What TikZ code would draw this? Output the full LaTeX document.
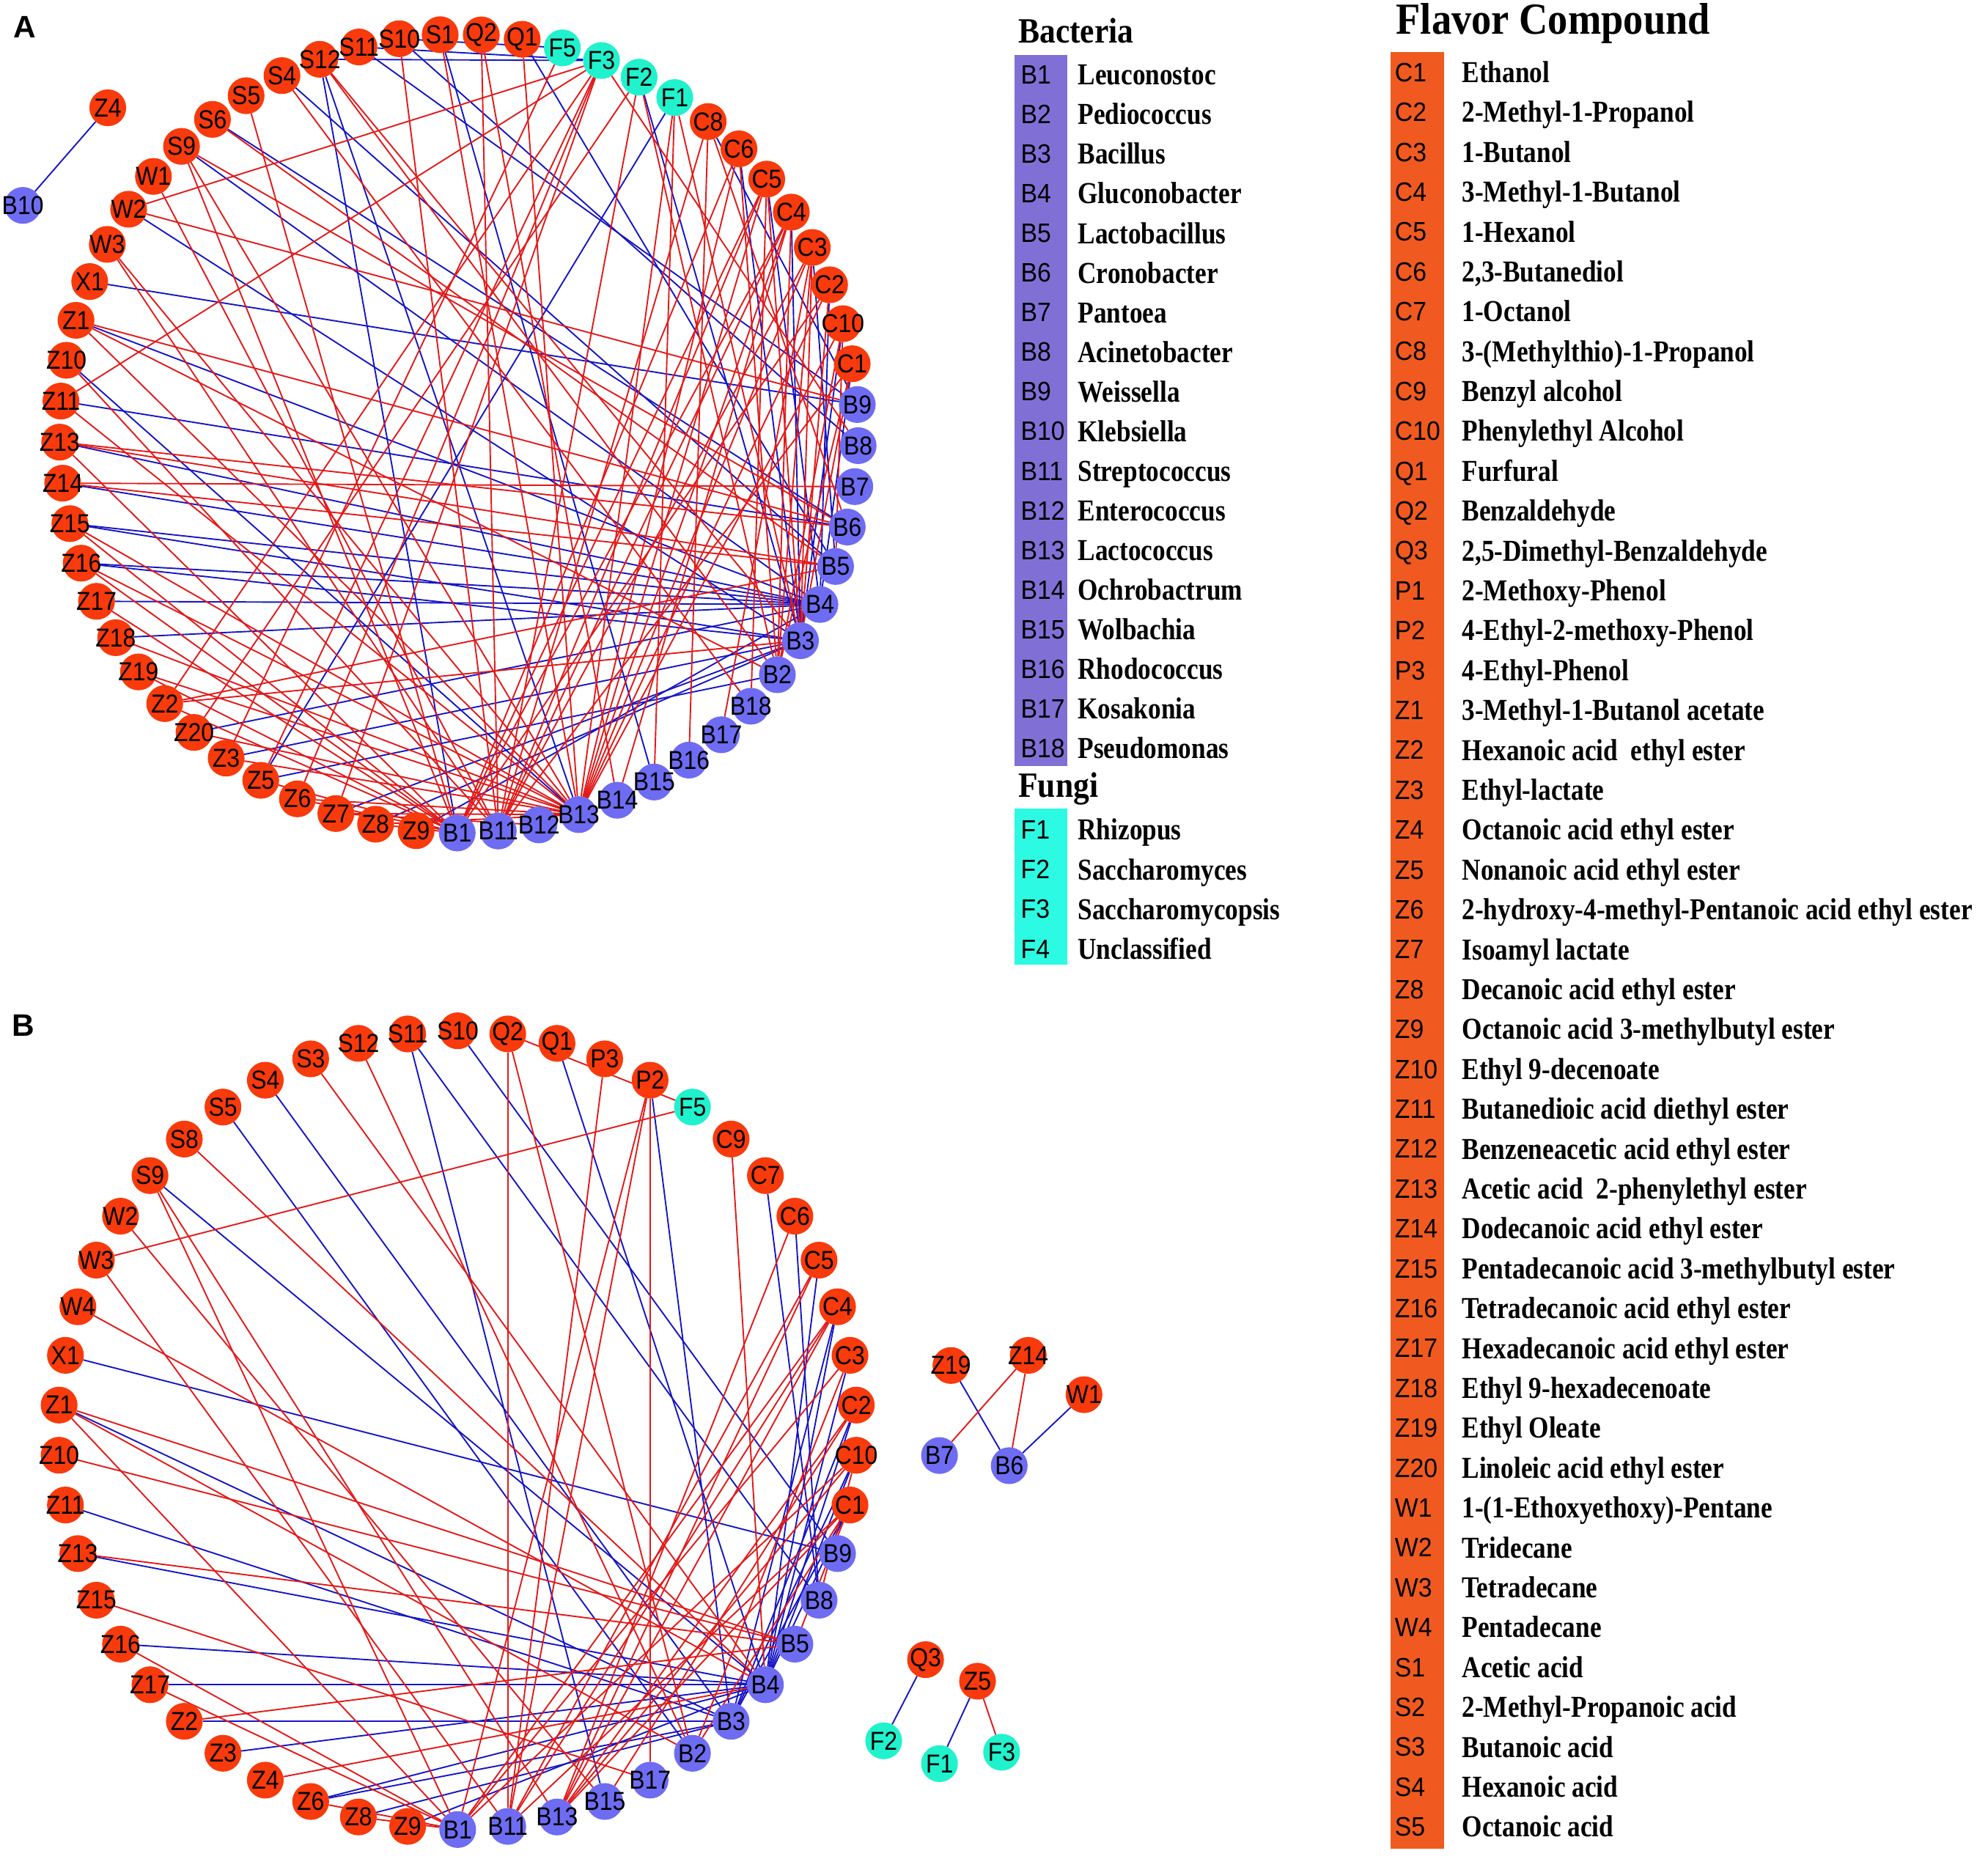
\documentclass[tikz,border=0pt]{standalone}
\usepackage{fontspec}
\setmainfont{Liberation Serif}
\newfontfamily\nodefont[FakeStretch=0.9]{Liberation Sans}
\newfontfamily\labfont[FakeStretch=0.93]{Liberation Sans}
\newfontfamily\namefont[FakeStretch=0.85]{Liberation Serif}
\newfontfamily\titlefont[FakeStretch=0.9]{Liberation Serif}
\newfontfamily\panelfont{Liberation Sans}
\pgfdeclarelayer{bgfill}
\pgfdeclarelayer{edges}
\pgfsetlayers{bgfill,edges,main}
\definecolor{cr}{RGB}{248,58,12}
\definecolor{cb}{RGB}{110,108,242}
\definecolor{cf}{RGB}{32,242,205}
\definecolor{legpurple}{RGB}{128,112,214}
\definecolor{legcyan}{RGB}{44,250,226}
\definecolor{legorange}{RGB}{240,90,32}
\definecolor{edgered}{RGB}{226,26,26}
\definecolor{edgeblue}{RGB}{22,22,196}
\tikzset{
  cn/.style={circle, minimum size=29pt, inner sep=0pt, outer sep=0pt},
  ntext/.style={inner sep=0pt, text=black, font=\nodefont\fontsize{20.5}{20.5}\selectfont},
  re/.style={draw=edgered, line width=1.1pt},
  be/.style={draw=edgeblue, line width=1.1pt},
  leglab/.style={anchor=base west, inner sep=0pt, font=\labfont\fontsize{21}{21}\selectfont},
  legname/.style={anchor=base west, inner sep=0pt, font=\namefont\bfseries\fontsize{24}{24}\selectfont},
  legtitle/.style={anchor=base west, inner sep=0pt, font=\titlefont\bfseries\fontsize{28}{28}\selectfont},
  paneltitle/.style={anchor=base west, inner sep=0pt, font=\panelfont\bfseries\fontsize{24.5}{24.5}\selectfont}
}
\begin{document}
\begin{tikzpicture}[x=1pt,y=-1pt]
\useasboundingbox (0,0) rectangle (1568,1466);
\begin{pgfonlayer}{bgfill}
\fill[white] (0,0) rectangle (1568,1466);
\end{pgfonlayer}

% ---------------- Panel A ----------------
\node[paneltitle] (labA) at (10.6,29.7) {A};
\foreach \n/\c [count=\i from 0] in {S1/r,Q2/r,Q1/r,F5/f,F3/f,F2/f,F1/f,C8/r,C6/r,C5/r,C4/r,C3/r,C2/r,C10/r,C1/r,B9/b,B8/b,B7/b,B6/b,B5/b,B4/b,B3/b,B2/b,B18/b,B17/b,B16/b,B15/b,B14/b,B13/b,B12/b,B11/b,B1/b,Z9/r,Z8/r,Z7/r,Z6/r,Z5/r,Z3/r,Z20/r,Z2/r,Z19/r,Z18/r,Z17/r,Z16/r,Z15/r,Z14/r,Z13/r,Z11/r,Z10/r,Z1/r,X1/r,W3/r,W2/r,W1/r,S9/r,S6/r,S5/r,S4/r,S12/r,S11/r,S10/r}{
  \node[cn, fill=c\c, label={[ntext]center:\n}] (a\n) at ({362+315*sin(-2.7+\i*5.90164)},{342-315*cos(-2.7+\i*5.90164)}) {};
}
\node[cn, fill=cr, label={[ntext]center:Z4}] (aZ4) at (85,85) {};
\node[cn, fill=cb, label={[ntext]center:B10}] (aB10) at (18,162) {};

\begin{pgfonlayer}{edges}
\foreach \u/\v in {Z4/B10,S12/F3,S11/F3,S10/F5,S10/B8,S11/B9,S12/B1,S12/B13,S4/B5,S9/B4,W2/B3,X1/B9,Z1/B4,Z10/B13,Z11/B6,Z13/B4,Z15/B4,Z15/B3,Z16/B4,Z16/B3,Z17/B4,Z18/B4,Z20/B4,Z3/B3,Z5/F1,Z5/B2,Z7/B3,Z8/B3,Z9/B4,F2/B3,C8/B9,C6/B3,C5/B4,C4/B3,C2/B4,C10/B3,S1/B15,Q1/B5,C3/B5,C1/B4,S6/B6,Z14/B4}
  \draw[be] (a\u) -- (a\v);
\foreach \u/\v in {S12/B3,S12/B2,S4/B18,S5/B1,S6/B5,S9/B6,S9/B1,S9/B13,W1/B11,W2/F3,W2/B9,W3/B13,W3/B11,Z1/B6,Z1/B2,Z1/B13,Z10/B11,Z11/F3,Z11/B13,Z13/B6,Z13/B5,Z13/B1,Z14/B7,Z14/B5,Z15/B13,Z15/B1,Z16/B13,Z16/B1,Z17/B1,Z18/B13,Z19/B1,Z19/B13,Z2/B5,Z2/B3,Z2/B1,Z2/F3,Z20/B13,Z20/F2,Z3/F5,Z3/B13,Z5/F3,Z5/B1,Z6/F3,Z6/B13,Z6/B1,Z7/F3,Z7/B13,Z7/B12,Z8/B13,Z8/B1,F3/B8,F2/B11,F2/B2,F1/B13,F1/B3,F1/B15,C8/B16,C8/B11,C8/B6,C6/B13,C6/B1,C6/B2,C5/B13,C5/B11,C5/B1,C5/B3,C5/B18,C4/B13,C4/B11,C4/B2,C4/B1,C4/B14,C3/B11,C3/B13,C3/B2,C3/B3,C3/B17,C2/B1,C2/B13,C2/B3,C10/B13,C10/B5,C10/B2,C1/B11,C1/B3,C1/B2,Q2/B11,Q2/B14,Q1/B13,S1/B13,S10/B11}
  \draw[re] (a\u) -- (a\v);
\end{pgfonlayer}

% ---------------- Panel B ----------------
\node[paneltitle] (labB) at (9.4,817.5) {B};
\foreach \n/\c [count=\i from 0] in {S10/r,Q2/r,Q1/r,P3/r,P2/r,F5/f,C9/r,C7/r,C6/r,C5/r,C4/r,C3/r,C2/r,C10/r,C1/r,B9/b,B8/b,B5/b,B4/b,B3/b,B2/b,B17/b,B15/b,B13/b,B11/b,B1/b,Z9/r,Z8/r,Z6/r,Z4/r,Z3/r,Z2/r,Z17/r,Z16/r,Z15/r,Z13/r,Z11/r,Z10/r,Z1/r,X1/r,W4/r,W3/r,W2/r,S9/r,S8/r,S5/r,S4/r,S3/r,S12/r,S11/r}{
  \node[cn, fill=c\c, label={[ntext]center:\n}] (b\n) at ({361+315*sin(\i*7.2)},{1128-315*cos(\i*7.2)}) {};
}
\foreach \n/\c/\x/\y in {Z19/r/750/1077,Z14/r/811/1069,W1/r/855/1100,B7/b/741/1148,B6/b/796/1156,Q3/r/730/1309,F2/f/697/1373,Z5/r/771/1326,F1/f/741/1391,F3/f/790/1382}{
  \node[cn, fill=c\c, label={[ntext]center:\n}] (b\n) at (\x,\y) {};
}

\begin{pgfonlayer}{edges}
\foreach \u/\v in {S11/B15,S11/B8,S10/B9,Q1/B4,P2/B3,C7/B8,C6/B8,C5/B4,C4/B3,C4/B4,C3/B4,C2/B4,C2/B3,C10/B4,C10/B3,C1/B4,C1/B3,S4/B3,S5/B2,S9/B4,X1/B9,Z1/B3,Z11/B3,Z13/B4,Z16/B4,Z17/B4,Z2/B3,Z3/B4,Z6/B3,Z6/B4,Z8/B3,Z9/B4,Z19/B6,W1/B6,Q3/F2,Z5/F1}
  \draw[be] (b\u) -- (b\v);
\foreach \u/\v in {S12/B2,S3/B4,S8/B4,S9/B1,S9/B13,W2/B15,W3/F5,W3/B11,W4/B4,Q2/F5,Q2/B11,Q2/B2,P3/B11,P2/B1,P2/B11,P2/B17,C9/B4,C6/B13,C5/B13,C5/B11,C4/B1,C4/B11,C4/B13,C3/B1,C3/B2,C2/B13,C2/B15,C10/B13,C10/B1,C10/B8,C1/B13,C1/B11,C1/B2,C1/B5,Z1/B1,Z1/B2,Z1/B5,Z10/B5,Z13/B5,Z15/B17,Z16/B1,Z17/B1,Z2/B5,Z4/B4,Z6/B1,Z8/B1,Z14/B7,Z14/B6,Z5/F3}
  \draw[re] (b\u) -- (b\v);
\end{pgfonlayer}

% ---------------- Legends ----------------
\node[legtitle] (tbac) at (803,33.6) {Bacteria};
\fill[legpurple] (800,43.5) rectangle (842,604);
\foreach \lab/\name [count=\i from 0] in {B1/Leuconostoc,B2/Pediococcus,B3/Bacillus,B4/Gluconobacter,B5/Lactobacillus,B6/Cronobacter,B7/Pantoea,B8/Acinetobacter,B9/Weissella,B10/Klebsiella,B11/Streptococcus,B12/Enterococcus,B13/Lactococcus,B14/Ochrobactrum,B15/Wolbachia,B16/Rhodococcus,B17/Kosakonia,B18/Pseudomonas}{
  \node[leglab] (lb\i) at (805,{59+\i*31.24+7.3}) {\lab};
  \node[legname] (nb\i) at (850,{59+\i*31.24+8}) {\name};
}
\node[legtitle] (tfun) at (803,628.5) {Fungi};
\fill[legcyan] (800,637.5) rectangle (842,761);
\foreach \lab/\name [count=\i from 0] in {F1/Rhizopus,F2/Saccharomyces,F3/Saccharomycopsis,F4/Unclassified}{
  \node[leglab] (lf\i) at (805,{654.5+\i*31.3+7.3}) {\lab};
  \node[legname] (nf\i) at (850,{654.5+\i*31.3+8}) {\name};
}
\node[legtitle, font=\titlefont\bfseries\fontsize{35}{35}\selectfont] (tfla) at (1101,26.6) {Flavor Compound};
\fill[legorange] (1097,41) rectangle (1139,1458);
\foreach \lab/\name [count=\i from 0] in {C1/Ethanol,C2/2-Methyl-1-Propanol,C3/1-Butanol,C4/3-Methyl-1-Butanol,C5/1-Hexanol,C6/{2,3-Butanediol},C7/1-Octanol,C8/3-(Methylthio)-1-Propanol,C9/Benzyl alcohol,C10/Phenylethyl Alcohol,Q1/Furfural,Q2/Benzaldehyde,Q3/{2,5-Dimethyl-Benzaldehyde},P1/2-Methoxy-Phenol,P2/4-Ethyl-2-methoxy-Phenol,P3/4-Ethyl-Phenol,Z1/3-Methyl-1-Butanol acetate,Z2/Hexanoic acid~~ethyl ester,Z3/Ethyl-lactate,Z4/Octanoic acid ethyl ester,Z5/Nonanoic acid ethyl ester,Z6/2-hydroxy-4-methyl-Pentanoic acid ethyl ester,Z7/Isoamyl lactate,Z8/Decanoic acid ethyl ester,Z9/Octanoic acid 3-methylbutyl ester,Z10/Ethyl 9-decenoate,Z11/Butanedioic acid diethyl ester,Z12/Benzeneacetic acid ethyl ester,Z13/Acetic acid~~2-phenylethyl ester,Z14/Dodecanoic acid ethyl ester,Z15/Pentadecanoic acid 3-methylbutyl ester,Z16/Tetradecanoic acid ethyl ester,Z17/Hexadecanoic acid ethyl ester,Z18/Ethyl 9-hexadecenoate,Z19/Ethyl Oleate,Z20/Linoleic acid ethyl ester,W1/1-(1-Ethoxyethoxy)-Pentane,W2/Tridecane,W3/Tetradecane,W4/Pentadecane,S1/Acetic acid,S2/2-Methyl-Propanoic acid,S3/Butanoic acid,S4/Hexanoic acid,S5/Octanoic acid}{
  \node[leglab] (lc\i) at (1100,{57+\i*31.45+7.3}) {\lab};
  \node[legname] (nc\i) at (1153,{57+\i*31.45+8}) {\name};
}
\end{tikzpicture}
\end{document}
